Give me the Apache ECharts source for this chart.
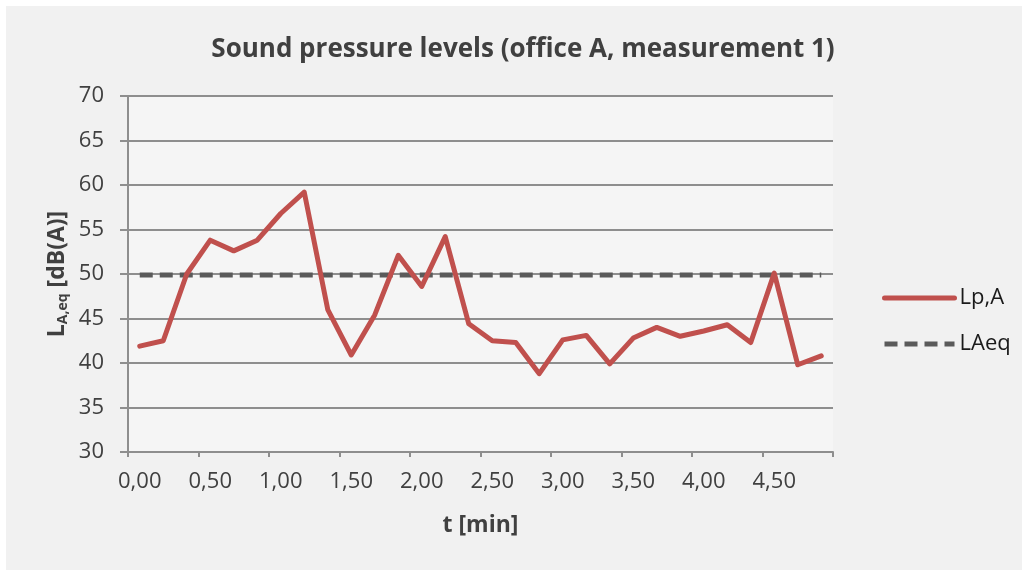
<!DOCTYPE html>
<html>
<head>
<meta charset="utf-8">
<script src="https://cdn.jsdelivr.net/npm/echarts@6/dist/echarts.min.js"></script>
<style>
  html, body { margin: 0; padding: 0; background: #ffffff; }
  #frame { position: absolute; left: 6px; top: 6px; width: 1016px; height: 564px; background: #f1f1f1; }
  #chart { position: absolute; left: 0; top: 0; width: 1022px; height: 570px; }
</style>
</head>
<body>
<div id="frame"></div>
<div id="chart"></div>
<script>
// Time stamps in minutes, one reading every 10 s
const times = [
  '0,00','0,17','0,33','0,50','0,67','0,83','1,00','1,17','1,33','1,50',
  '1,67','1,83','2,00','2,17','2,33','2,50','2,67','2,83','3,00','3,17',
  '3,33','3,50','3,67','3,83','4,00','4,17','4,33','4,50','4,67','4,83'
];
// Short-term A-weighted sound pressure level, dB(A)
const lpA = [
  41.9, 42.5, 50.0, 53.8, 52.6, 53.8, 56.8, 59.2, 46.0, 40.9,
  45.4, 52.1, 48.6, 54.2, 44.4, 42.5, 42.3, 38.8, 42.6, 43.1,
  39.9, 42.8, 44.0, 43.0, 43.6, 44.3, 42.3, 50.1, 39.8, 40.8
];
// Equivalent continuous level over the whole measurement
const lAeqValue = 49.9;
const lAeq = times.map(() => lAeqValue);

const yMin = 30, yMax = 70, yStep = 5;

const FONT = '"Open Sans"';
const TXT = '#404040';
const GRID_LINE = '#8e8e8e';

// Y-axis title with a subscript: L_{A,eq} [dB(A)], built from rotated text pieces
const NAME_SIZE = 23, SUB_SIZE = 14;
const mctx = document.createElement('canvas').getContext('2d');
function textWidth(t, size) {
  mctx.font = 'bold ' + size + 'px "Open Sans"';
  return mctx.measureText(t).width;
}
const partL = 'L', partSub = 'A,eq', partUnit = ' [dB(A)]';
const wL = textWidth(partL, NAME_SIZE);
const wSub = textWidth(partSub, SUB_SIZE);
const wUnit = textWidth(partUnit, NAME_SIZE);
const wAll = wL + wSub + wUnit;
const nameStyle = (size) => ({ fontFamily: 'Open Sans', fontSize: size, fontWeight: 'bold', fill: TXT, verticalAlign: 'middle', align: 'left' });

const chart = echarts.init(document.getElementById('chart'), null, { renderer: 'canvas' });
chart.setOption({
  backgroundColor: 'transparent',
  animation: false,
  title: {
    text: 'Sound pressure levels (office A, measurement 1)',
    left: 518,
    textAlign: 'center',
    top: 32,
    textStyle: { fontFamily: FONT, fontSize: 26, fontWeight: 'bold', color: TXT }
  },
  legend: {
    orient: 'vertical',
    left: 877,
    top: 282,
    itemWidth: 70,
    itemHeight: 24,
    itemGap: 24,
    itemStyle: { opacity: 0 },
    lineStyle: { width: 5 },
    textStyle: { fontFamily: FONT, fontSize: 22, color: '#1a1a1a' },
    data: ['Lp,A', 'LAeq']
  },
  grid: {
    left: 128, right: 189, top: 96, bottom: 118,
    show: true, backgroundColor: '#f5f5f5', borderWidth: 0
  },
  graphic: [{
    type: 'group',
    x: 57, y: 274,
    rotation: Math.PI / 2,
    children: [
      { type: 'text', x: -wAll / 2, y: 0, style: Object.assign({ text: partL }, nameStyle(NAME_SIZE)) },
      { type: 'text', x: -wAll / 2 + wL, y: 6, style: Object.assign({ text: partSub }, nameStyle(SUB_SIZE)) },
      { type: 'text', x: -wAll / 2 + wL + wSub, y: 0, style: Object.assign({ text: partUnit }, nameStyle(NAME_SIZE)) }
    ]
  }],
  xAxis: {
    type: 'category',
    data: times,
    boundaryGap: true,
    name: 't [min]',
    nameLocation: 'middle',
    nameGap: 62,
    nameTextStyle: { fontFamily: FONT, fontSize: 23, fontWeight: 'bold', color: TXT },
    axisLine: { lineStyle: { color: GRID_LINE, width: 2 } },
    axisTick: { show: true, interval: 2, length: 5, lineStyle: { color: GRID_LINE, width: 2 } },
    axisLabel: { interval: 2, margin: 19, fontFamily: FONT, fontSize: 22, color: TXT },
    splitLine: { show: false }
  },
  yAxis: {
    type: 'value',
    min: yMin, max: yMax, interval: yStep,
    axisLine: { show: true, lineStyle: { color: GRID_LINE, width: 2 } },
    axisTick: { show: true, length: 8, lineStyle: { color: GRID_LINE, width: 2 } },
    axisLabel: { margin: 24, fontFamily: FONT, fontSize: 22, color: TXT },
    splitLine: { show: true, lineStyle: { color: GRID_LINE, width: 2 } }
  },
  series: [
    {
      name: 'Lp,A',
      type: 'line',
      data: lpA,
      showSymbol: false,
      symbol: 'none',
      color: '#c0504d',
      lineStyle: { color: '#c0504d', width: 5, cap: 'round', join: 'round' },
      z: 3
    },
    {
      name: 'LAeq',
      type: 'line',
      data: lAeq,
      showSymbol: false,
      symbol: 'none',
      color: '#555555',
      lineStyle: { color: '#5a5a5a', width: 5, type: [13, 7], cap: 'butt' },
      z: 2
    }
  ]
});
</script>
</body>
</html>
